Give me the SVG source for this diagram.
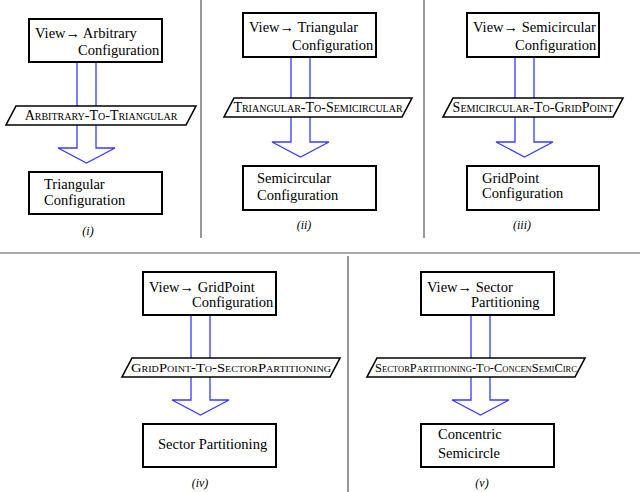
<svg xmlns="http://www.w3.org/2000/svg" width="640" height="492" viewBox="0 0 640 492">
<style>
.box{fill:#fff;stroke:#000;stroke-width:2}
.par{fill:#fff;stroke:#000;stroke-width:1.6}
.arr{fill:none;stroke:#3a3aff;stroke-width:1.3}
.div{stroke:#555;stroke-width:1.2}
text{font-family:"Liberation Serif","DejaVu Serif",serif;font-size:14.5px;fill:#000}
.sc{font-variant:small-caps;font-size:14px;text-anchor:middle}
.lab{font-style:italic;font-size:12px;text-anchor:middle}
</style>
<rect width="640" height="492" fill="#fff"/>
<g id="dividers">
<line class="div" x1="201" y1="0" x2="201" y2="238"/>
<line class="div" x1="424" y1="0" x2="424" y2="238"/>
<line class="div" x1="0" y1="253" x2="640" y2="253"/>
<line class="div" x1="348" y1="256" x2="348" y2="492"/>
</g>
<g id="connectors">
<polygon class="arr" points="77,62 96,62 96,148 115,148 86.5,163 58,148 77,148"/>
<polygon class="arr" points="291,57 310,57 310,142 329,142 300.5,157 272,142 291,142"/>
<polygon class="arr" points="515,57 534,57 534,142 553,142 524.5,157 496,142 515,142"/>
<polygon class="arr" points="191,315 210,315 210,400 229,400 200.5,415 172,400 191,400"/>
<polygon class="arr" points="471,315 490,315 490,400 509,400 480.5,415 452,400 471,400"/>
</g>
<g id="n1"><rect class="box" x="29" y="19" width="133" height="43"/><text x="35" y="38">View→ Arbitrary</text><text x="78" y="55">Configuration</text></g>
<g id="p1"><polygon class="par" points="16,106 196,106 186,125 6,125"/><text class="sc" x="101" y="120">Arbitrary-To-Triangular</text></g>
<g id="n2"><rect class="box" x="29" y="172" width="133" height="42"/><text x="44" y="189">Triangular</text><text x="44" y="205">Configuration</text></g>
<text class="lab" x="88" y="235">(i)</text>

<g id="n3"><rect class="box" x="243" y="13" width="133" height="44"/><text x="249" y="32">View→ Triangular</text><text x="292" y="50">Configuration</text></g>
<g id="p2"><polygon class="par" points="234,98 412,98 402,117 224,117"/><text class="sc" x="318" y="112">Triangular-To-Semicircular</text></g>
<g id="n4"><rect class="box" x="243" y="166" width="133" height="44"/><text x="257" y="183">Semicircular</text><text x="257" y="200">Configuration</text></g>
<text class="lab" x="304" y="229">(ii)</text>

<g id="n5"><rect class="box" x="467" y="13" width="132" height="44"/><text x="473" y="32">View→ Semicircular</text><text x="515" y="50">Configuration</text></g>
<g id="p3"><polygon class="par" points="453,98 623,98 613,117 443,117"/><text class="sc" x="533" y="112">Semicircular-To-GridPoint</text></g>
<g id="n6"><rect class="box" x="467" y="166" width="132" height="44"/><text x="482" y="183">GridPoint</text><text x="482" y="198">Configuration</text></g>
<text class="lab" x="522" y="229">(iii)</text>

<g id="n7"><rect class="box" x="143" y="272" width="133" height="43"/><text x="149" y="292">View→ GridPoint</text><text x="192" y="307">Configuration</text></g>
<g id="p4"><polygon class="par" points="132,358 340,358 330,377 122,377"/><text class="sc" x="231" y="372" style="font-size:13px" textLength="200" lengthAdjust="spacingAndGlyphs">GridPoint-To-SectorPartitioning</text></g>
<g id="n8"><rect class="box" x="143" y="424" width="133" height="43"/><text x="158" y="449">Sector Partitioning</text></g>
<text class="lab" x="200" y="487">(iv)</text>

<g id="n9"><rect class="box" x="421" y="272" width="133" height="43"/><text x="427" y="292">View→ Sector</text><text x="471" y="307">Partitioning</text></g>
<g id="p5"><polygon class="par" points="377,358 585,358 575,377 367,377"/><text class="sc" x="476" y="372" style="font-size:13px" textLength="202" lengthAdjust="spacingAndGlyphs">SectorPartitioning-To-ConcenSemiCirc</text></g>
<g id="n10"><rect class="box" x="421" y="424" width="133" height="43"/><text x="438" y="439">Concentric</text><text x="438" y="458">Semicircle</text></g>
<text class="lab" x="482" y="487">(v)</text>
</svg>
